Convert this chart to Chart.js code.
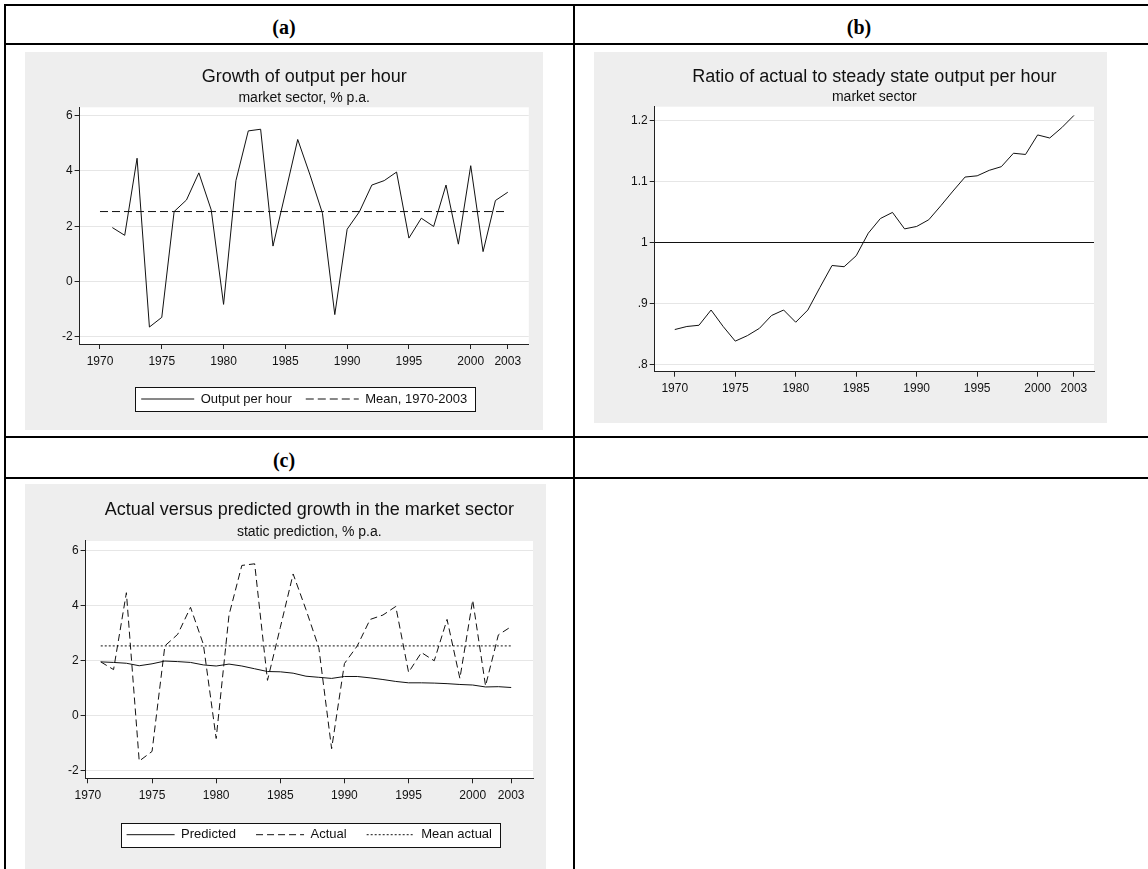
<!DOCTYPE html>
<html>
<head>
<meta charset="utf-8">
<title>Output per hour, market sector</title>
<script src="https://cdn.jsdelivr.net/npm/chart.js@4.4.1/dist/chart.umd.min.js"></script>
<style>
    body {
        margin: 0;
        width: 1148px;
        height: 869px;
        overflow: hidden;
        position: relative;
        background: #ffffff;
    }
    .rule { position: absolute; background: #000000; }
    .head {
        position: absolute;
        width: 120px;
        text-align: center;
        line-height: 20px;
        font: bold 20px "Liberation Serif", "Times New Roman", serif;
        color: #000000;
    }
    .panel { position: absolute; background: #eeeeee; }
    .panel canvas { display: block; }
</style>
</head>
<body>

<div class="rule" style="left:4px;top:4px;width:1144px;height:2px"></div>
<div class="rule" style="left:4px;top:43px;width:1144px;height:2px"></div>
<div class="rule" style="left:4px;top:436px;width:1144px;height:2px"></div>
<div class="rule" style="left:4px;top:477px;width:1144px;height:2px"></div>
<div class="rule" style="left:4px;top:4px;width:2px;height:865px"></div>
<div class="rule" style="left:573px;top:4px;width:2px;height:865px"></div>

<div class="head" style="left:224px;top:16px">(a)</div>
<div class="head" style="left:799px;top:16px">(b)</div>
<div class="head" style="left:224px;top:449px">(c)</div>

<div class="panel" style="left:25px;top:52px;width:518px;height:378px">
    <canvas id="chart-a" width="518" height="378"></canvas>
</div>
<div class="panel" style="left:594px;top:52px;width:513px;height:371px">
    <canvas id="chart-b" width="513" height="371"></canvas>
</div>
<div class="panel" style="left:25px;top:484px;width:521px;height:385px">
    <canvas id="chart-c" width="521" height="385"></canvas>
</div>

<script>
// years shown on the x axes
var yearTicks = [1970, 1975, 1980, 1985, 1990, 1995, 2000, 2003];

// growth of output per hour, market sector, % p.a. (1971-2003)
var growthYears = [1971, 1972, 1973, 1974, 1975, 1976, 1977, 1978, 1979, 1980,
    1981, 1982, 1983, 1984, 1985, 1986, 1987, 1988, 1989, 1990,
    1991, 1992, 1993, 1994, 1995, 1996, 1997, 1998, 1999, 2000,
    2001, 2002, 2003];
var outputGrowth = [1.95, 1.67, 4.46, -1.65, -1.30, 2.53, 2.95, 3.93, 2.59, -0.83,
    3.65, 5.45, 5.51, 1.28, 3.20, 5.14, 3.85, 2.47, -1.20, 1.89,
    2.53, 3.49, 3.65, 3.96, 1.57, 2.29, 1.99, 3.49, 1.35, 4.19,
    1.08, 2.93, 3.23];
var predictedGrowth = [1.95, 1.93, 1.90, 1.81, 1.88, 1.98, 1.96, 1.93, 1.84, 1.80,
    1.87, 1.80, 1.70, 1.60, 1.59, 1.54, 1.43, 1.39, 1.35, 1.42,
    1.42, 1.37, 1.31, 1.24, 1.19, 1.19, 1.18, 1.16, 1.13, 1.11,
    1.04, 1.05, 1.02];
var meanGrowth = 2.53;
var meanSpanA = [1970, 2003];
var meanSpanC = [1971, 2003];
var growthTicks = [-2, 0, 2, 4, 6];
var growthTickLabels = ['-2', '0', '2', '4', '6'];

// ratio of actual to steady state output per hour (1970-2003)
var ratioYears = [1970, 1971, 1972, 1973, 1974, 1975, 1976, 1977, 1978, 1979,
    1980, 1981, 1982, 1983, 1984, 1985, 1986, 1987, 1988, 1989,
    1990, 1991, 1992, 1993, 1994, 1995, 1996, 1997, 1998, 1999,
    2000, 2001, 2002, 2003];
var ratioValues = [0.857, 0.862, 0.864, 0.889, 0.862, 0.838, 0.847, 0.859, 0.880, 0.889,
    0.869, 0.889, 0.926, 0.962, 0.960, 0.978, 1.015, 1.039, 1.049, 1.022,
    1.026, 1.037, 1.060, 1.084, 1.107, 1.109, 1.118, 1.124, 1.146, 1.144,
    1.176, 1.171, 1.188, 1.208];
var ratioTicks = [0.8, 0.9, 1, 1.1, 1.2];
var ratioTickLabels = ['.8', '.9', '1', '1.1', '1.2'];

Chart.defaults.font.family = '"Liberation Sans", Arial, Helvetica, sans-serif';
Chart.defaults.color = '#111111';

/**
 * Pair x and y arrays into {x, y} points.
 */
function toPoints(xs, ys) {
    return xs.map(function (x, i) {
        return { x: x, y: ys[i] };
    });
}

/**
 * White plot region and framed legend, painted before the scales and lines.
 */
var plotFrame = {
    id: 'plotFrame',
    beforeDraw: function (chart) {
        var ctx = chart.ctx;
        var area = chart.chartArea;
        ctx.save();
        ctx.fillStyle = '#ffffff';
        ctx.fillRect(area.left, area.top, area.right - area.left, area.bottom - area.top);
        var legend = chart.legend;
        if (legend && legend.options.display && legend.legendHitBoxes.length) {
            var boxes = legend.legendHitBoxes;
            var first = boxes[0];
            var last = boxes[boxes.length - 1];
            var left = Math.round(first.left - 6) + 0.5;
            var right = Math.round(last.left + last.width + 8) + 0.5;
            var top = Math.round(first.top - 5.5) + 0.5;
            var bottom = Math.round(first.top + first.height + 5.5) + 0.5;
            ctx.fillRect(left, top, right - left, bottom - top);
            ctx.strokeStyle = '#111111';
            ctx.lineWidth = 1;
            ctx.strokeRect(left, top, right - left, bottom - top);
        }
        ctx.restore();
    }
};

/**
 * Legend keys drawn as short line samples with each dataset's dash.
 */
function legendLines(chart) {
    return chart.data.datasets.map(function (ds, i) {
        return {
            text: ds.label,
            datasetIndex: i,
            fillStyle: 'rgba(0,0,0,0)',
            strokeStyle: ds.borderColor,
            lineWidth: 1,
            lineDash: ds.borderDash || [],
            pointStyle: 'line',
            fontColor: '#111111',
            hidden: false
        };
    });
}

function yearScale(min, max, height) {
    return {
        type: 'linear',
        min: min,
        max: max,
        afterBuildTicks: function (scale) {
            scale.ticks = yearTicks.map(function (v) { return { value: v }; });
        },
        afterFit: function (scale) { scale.height = height; },
        ticks: {
            autoSkip: false,
            maxRotation: 0,
            padding: 5,
            color: '#111111',
            font: { size: 12 },
            callback: function (value) { return String(value); }
        },
        grid: { drawOnChartArea: false, tickLength: 5, tickColor: '#222222', color: '#222222' },
        border: { color: '#222222', width: 1 }
    };
}

function valueScale(min, max, width, tickValues, tickLabels, refLine) {
    return {
        type: 'linear',
        min: min,
        max: max,
        afterBuildTicks: function (scale) {
            scale.ticks = tickValues.map(function (v) { return { value: v }; });
        },
        afterFit: function (scale) { scale.width = width; },
        ticks: {
            padding: 2,
            color: '#111111',
            font: { size: 12 },
            callback: function (value, index) { return tickLabels[index]; }
        },
        grid: {
            color: function (c) {
                return (c.tick && c.tick.value === refLine) ? '#111111' : '#e6e6e6';
            },
            tickColor: '#222222',
            tickLength: 5
        },
        border: { color: '#222222', width: 1 }
    };
}

function titles(title, subtitle, pad) {
    return {
        title: {
            display: true, text: title, fullSize: false, color: '#111111',
            font: { size: 18, weight: 'normal' },
            padding: { top: pad[0], bottom: 0 }
        },
        subtitle: {
            display: true, text: subtitle, fullSize: false, color: '#111111',
            font: { size: 14, weight: 'normal' },
            padding: { top: pad[1], bottom: pad[2] }
        }
    };
}

function legendOptions(keyWidth, gap) {
    return {
        display: true,
        position: 'bottom',
        fullSize: false,
        labels: {
            usePointStyle: true,
            pointStyle: 'line',
            pointStyleWidth: keyWidth,
            boxHeight: 13,
            padding: gap,
            color: '#111111',
            font: { size: 13 },
            generateLabels: legendLines
        }
    };
}

function lineSet(label, points, dash) {
    return {
        label: label,
        data: points,
        borderColor: '#111111',
        borderWidth: 1,
        borderDash: dash,
        pointRadius: 0,
        tension: 0,
        fill: false
    };
}

/**
 * Panel (a): growth of output per hour with its mean.
 */
function makeGrowthChart() {
    var t = titles('Growth of output per hour', 'market sector, % p.a.', [13.9, 2.4, 0.6]);
    new Chart(document.getElementById('chart-a').getContext('2d'), {
        type: 'line',
        data: {
            datasets: [
                lineSet('Output per hour', toPoints(growthYears, outputGrowth), []),
                lineSet('Mean, 1970-2003', toPoints(meanSpanA, [meanGrowth, meanGrowth]), [8, 4])
            ]
        },
        options: {
            responsive: false,
            animation: false,
            devicePixelRatio: 1,
            events: [],
            layout: { padding: { left: 0, right: 14.2, top: 0, bottom: 14.5 } },
            scales: {
                x: yearScale(1968.35, 2004.7, 34.5),
                y: valueScale(-2.264, 6.304, 54.6, growthTicks, growthTickLabels, null)
            },
            plugins: {
                title: t.title,
                subtitle: t.subtitle,
                legend: legendOptions(53, 14),
                tooltip: { enabled: false }
            }
        },
        plugins: [plotFrame]
    });
}

/**
 * Panel (b): ratio of actual to steady state output per hour.
 */
function makeRatioChart() {
    var t = titles('Ratio of actual to steady state output per hour', 'market sector', [13.9, 0.8, 1.6]);
    new Chart(document.getElementById('chart-b').getContext('2d'), {
        type: 'line',
        data: {
            datasets: [
                lineSet('Ratio', toPoints(ratioYears, ratioValues), [])
            ]
        },
        options: {
            responsive: false,
            animation: false,
            devicePixelRatio: 1,
            events: [],
            layout: { padding: { left: 0, right: 13, top: 0, bottom: 0 } },
            scales: {
                x: yearScale(1968.34, 2004.66, 51.3),
                y: valueScale(0.7879, 1.2223, 60.7, ratioTicks, ratioTickLabels, 1)
            },
            plugins: {
                title: t.title,
                subtitle: t.subtitle,
                legend: { display: false },
                tooltip: { enabled: false }
            }
        },
        plugins: [plotFrame]
    });
}

/**
 * Panel (c): actual versus predicted growth.
 */
function makePredictionChart() {
    var t = titles('Actual versus predicted growth in the market sector', 'static prediction, % p.a.', [15, 3.3, 0.3]);
    new Chart(document.getElementById('chart-c').getContext('2d'), {
        type: 'line',
        data: {
            datasets: [
                lineSet('Predicted', toPoints(growthYears, predictedGrowth), []),
                lineSet('Actual', toPoints(growthYears, outputGrowth), [7, 4]),
                lineSet('Mean actual', toPoints(meanSpanC, [meanGrowth, meanGrowth]), [2, 2])
            ]
        },
        options: {
            responsive: false,
            animation: false,
            devicePixelRatio: 1,
            events: [],
            layout: { padding: { left: 0, right: 13, top: 0, bottom: 17.8 } },
            scales: {
                x: yearScale(1969.82, 2004.7, 29.9),
                y: valueScale(-2.275, 6.337, 60.6, growthTicks, growthTickLabels, null)
            },
            plugins: {
                title: t.title,
                subtitle: t.subtitle,
                legend: legendOptions(48, 20),
                tooltip: { enabled: false }
            }
        },
        plugins: [plotFrame]
    });
}

makeGrowthChart();
makeRatioChart();
makePredictionChart();
</script>
</body>
</html>
